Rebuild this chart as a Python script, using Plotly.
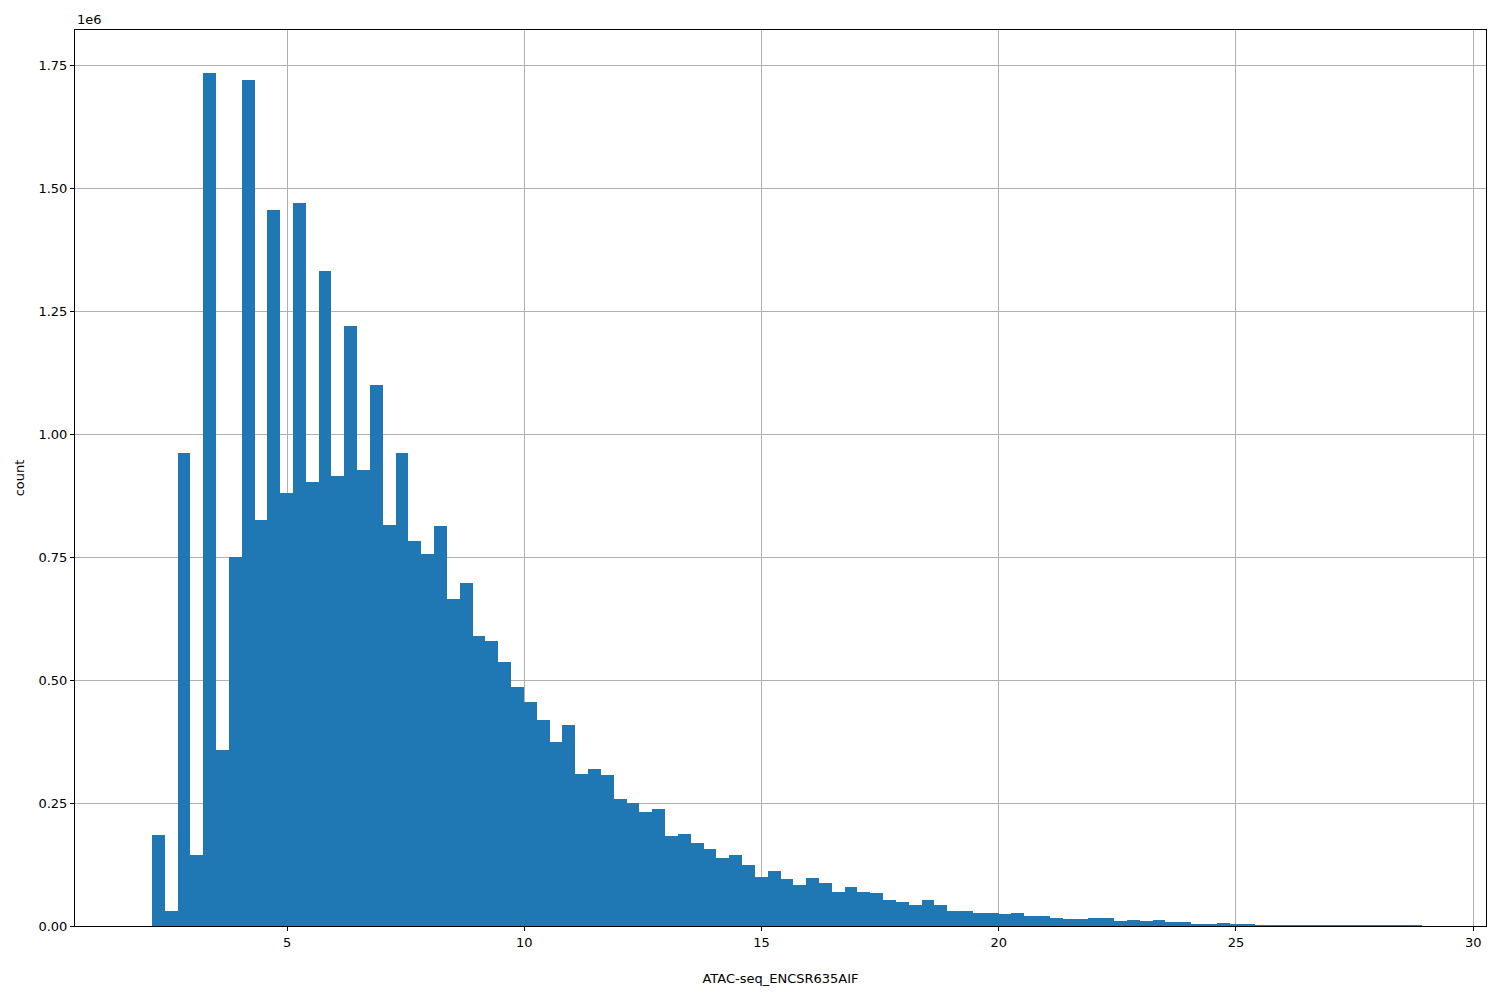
import numpy as np
import plotly.graph_objects as go

# histogram bins (100 equal bins between min and max of the signal)
bin_min = 1.88
bin_max = 28.92
n_bins = 100

# counts per bin, in units of 1e6
counts_1e6 = [
    0.0, 0.185, 0.031, 0.962, 0.145, 1.736, 0.359, 0.750, 1.721, 0.827,
    1.457, 0.882, 1.471, 0.903, 1.333, 0.915, 1.221, 0.927, 1.100, 0.815,
    0.962, 0.784, 0.756, 0.813, 0.666, 0.697, 0.591, 0.579, 0.538, 0.487,
    0.456, 0.420, 0.375, 0.409, 0.310, 0.320, 0.308, 0.259, 0.251, 0.232,
    0.238, 0.183, 0.187, 0.169, 0.157, 0.139, 0.145, 0.124, 0.100, 0.112,
    0.096, 0.084, 0.098, 0.088, 0.069, 0.079, 0.069, 0.067, 0.053, 0.049,
    0.043, 0.053, 0.043, 0.031, 0.031, 0.026, 0.026, 0.024, 0.026, 0.020,
    0.020, 0.016, 0.014, 0.014, 0.016, 0.016, 0.010, 0.012, 0.010, 0.012,
    0.008, 0.008, 0.004, 0.004, 0.006, 0.003, 0.003, 0.002, 0.002, 0.002,
    0.002, 0.001, 0.0004, 0.0003, 0.0002, 0.0001, 0.0001, 0.0001, 0.0001, 0.0001,
]

x_ticks = [5, 10, 15, 20, 25, 30]
y_ticks = [0, 0.25, 0.5, 0.75, 1.0, 1.25, 1.5, 1.75]

edges = np.linspace(bin_min, bin_max, n_bins + 1)
width = edges[1] - edges[0]
centers = (edges[:-1] + edges[1:]) / 2

fig = go.Figure(go.Bar(
    x=centers,
    y=counts_1e6,
    width=width,
    marker=dict(color='#1f77b4', line=dict(width=0)),
))

axis_style = dict(
    showline=True, linecolor='black', linewidth=1, mirror=True,
    showgrid=True, gridcolor='#b0b0b0', gridwidth=1,
    ticks='outside', ticklen=4, tickcolor='black',
    zeroline=False, tickfont=dict(size=13, color='black'),
    automargin=False,
)

fig.update_layout(
    width=1500, height=1000,
    margin=dict(l=67, r=22, t=22, b=82),
    plot_bgcolor='white', paper_bgcolor='white',
    font=dict(family='DejaVu Sans', size=13, color='black'),
    bargap=0, showlegend=False,
    xaxis=dict(axis_style, range=[0.53, 30.27], tickvals=x_ticks,
               title=dict(text='ATAC-seq_ENCSR635AIF', standoff=25,
                          font=dict(size=13))),
    yaxis=dict(axis_style, range=[0, 1.823], tickvals=y_ticks, tickformat='.2f',
               title=dict(text='count', standoff=10, font=dict(size=13))),
)
fig.add_annotation(text='1e6', xref='paper', yref='paper', x=0, y=1,
                   xanchor='left', yanchor='bottom', showarrow=False,
                   font=dict(size=13), yshift=1)

fig.write_html("out.html")
